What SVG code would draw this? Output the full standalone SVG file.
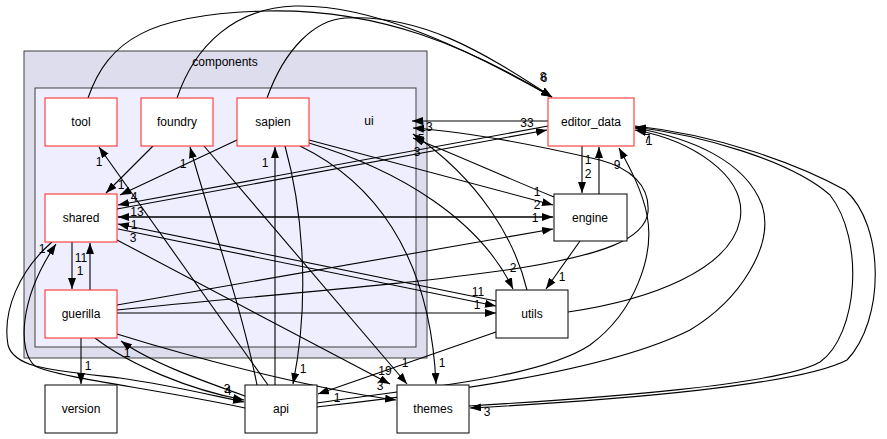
<svg xmlns="http://www.w3.org/2000/svg" width="887" height="439" viewBox="0 0 887 439">
<style>
text{font-family:"Liberation Sans",Arial,sans-serif;font-size:12px;fill:#000}
.lbl{text-anchor:middle}
.n{text-anchor:middle}
.red{fill:#fff;stroke:#ff2020;stroke-width:1}
.blk{fill:#fff;stroke:#000;stroke-width:1}
#edges path{fill:none;stroke:#000;stroke-width:1.1;marker-end:url(#a)}
</style>
<defs>
<marker id="a" markerWidth="11" markerHeight="8" refX="11" refY="4" orient="auto" markerUnits="userSpaceOnUse"><path d="M0,0 L11,4 L0,8 z" fill="#000"/></marker>
</defs>
<rect width="887" height="439" fill="#fff"/>
<g id="cluster-components">
<rect x="24" y="51" width="403" height="307" fill="#ddddee" stroke="#404040" stroke-width="1"/>
<text class="n" x="225" y="66">components</text>
</g>
<g id="cluster-ui">
<rect x="35" y="88" width="381" height="259" fill="#eeeeff" stroke="#404040" stroke-width="1"/>
<text class="n" x="369" y="125">ui</text>
</g>
<g id="edges">
<path d="M88,98 C108,40 150,14 265,11 C380,8 470,48 552,97"/>
<path d="M177,98 C195,45 235,8 295,6 C370,4 460,45 552,97"/>
<path d="M267,98 C285,48 315,20 345,18 C420,14 480,50 552,97"/>
<path d="M268,385 L99,147"/>
<path d="M257,385 C240,300 210,220 190,147"/>
<path d="M275,385 L275,147"/>
<path d="M285,146 C300,200 312,290 293,384"/>
<path d="M153,146 L106,193"/>
<path d="M237,140 L120,195"/>
<path d="M204,146 L407,384"/>
<path d="M117,240 L390,384"/>
<path d="M300,146 C370,180 430,250 436,384"/>
<path d="M117,334 C200,360 320,390 396,400"/>
<path d="M117,209 L547,130"/>
<path d="M548,126 L118,205"/>
<path d="M548,121 L412,121"/>
<path d="M553,217 L118,217"/>
<path d="M118,217 L553,217"/>
<path d="M496,301 L118,224"/>
<path d="M118,229 L496,306"/>
<path d="M117,313 L496,313"/>
<path d="M117,305 L553,229"/>
<path d="M117,310 C250,296 400,286 520,268 C600,255 645,240 648,212 C650,185 630,168 600,160 C540,146 470,132 413,128"/>
<path d="M554,197 C500,175 450,152 413,138"/>
<path d="M527,290 C515,240 480,180 413,134"/>
<path d="M309,143 C400,170 480,220 513,289"/>
<path d="M309,140 L553,205"/>
<path d="M580,241 L546,289"/>
<path d="M582,146 L582,193"/>
<path d="M599,194 L599,147"/>
<path d="M568,312 C650,300 730,270 740,220 C748,175 690,140 635,130"/>
<path d="M317,403 C420,388 540,378 590,345 C635,312 655,255 647,215 C642,190 630,168 619,148"/>
<path d="M317,407 C420,395 600,375 690,330 C740,300 775,245 762,205 C745,160 690,138 635,128"/>
<path d="M469,406 C600,398 780,385 820,362 C858,335 865,240 830,195 C790,160 700,135 635,127"/>
<path d="M635,126 C720,135 800,165 845,190 C885,225 885,320 847,360 C800,385 620,400 470,408"/>
<path d="M81,338 L81,384"/>
<path d="M72,242 L72,289"/>
<path d="M90,290 L90,243"/>
<path d="M245,408 C150,388 60,378 35,366 C18,352 18,300 56,244"/>
<path d="M52,242 C20,270 2,310 8,345 C14,368 50,370 120,378 C170,385 210,395 244,402"/>
<path d="M95,338 C130,365 190,390 244,400"/>
<path d="M245,396 C200,380 150,362 121,341"/>
<path d="M496,332 L318,394"/>
</g>
<g id="edge-labels">
<text class="lbl" x="543" y="81">8</text>
<text class="lbl" x="544" y="82">6</text>
<text class="lbl" x="99" y="166">1</text>
<text class="lbl" x="183" y="168">1</text>
<text class="lbl" x="265" y="167">1</text>
<text class="lbl" x="121" y="189">1</text>
<text class="lbl" x="134" y="201">4</text>
<text class="lbl" x="137" y="216">13</text>
<text class="lbl" x="134" y="229">1</text>
<text class="lbl" x="133" y="242">3</text>
<text class="lbl" x="42" y="253">1</text>
<text class="lbl" x="81" y="262">11</text>
<text class="lbl" x="80" y="275">1</text>
<text class="lbl" x="527" y="127">33</text>
<text class="lbl" x="426" y="131">13</text>
<text class="lbl" x="421" y="143">5</text>
<text class="lbl" x="417" y="156">3</text>
<text class="lbl" x="647" y="143">7</text>
<text class="lbl" x="649" y="145">1</text>
<text class="lbl" x="588" y="164">1</text>
<text class="lbl" x="588" y="178">2</text>
<text class="lbl" x="617" y="169">9</text>
<text class="lbl" x="537" y="196">1</text>
<text class="lbl" x="537" y="209">2</text>
<text class="lbl" x="535" y="222">1</text>
<text class="lbl" x="513" y="272">2</text>
<text class="lbl" x="562" y="281">1</text>
<text class="lbl" x="478" y="296">11</text>
<text class="lbl" x="477" y="309">1</text>
<text class="lbl" x="227" y="393">3</text>
<text class="lbl" x="228" y="395">4</text>
<text class="lbl" x="303" y="373">1</text>
<text class="lbl" x="337" y="402">1</text>
<text class="lbl" x="385" y="375">19</text>
<text class="lbl" x="405" y="367">1</text>
<text class="lbl" x="442" y="367">1</text>
<text class="lbl" x="380" y="390">3</text>
<text class="lbl" x="487" y="416">3</text>
<text class="lbl" x="127" y="357">1</text>
<text class="lbl" x="88" y="370">1</text>
</g>
<g id="node-tool"><rect class="red" x="45" y="98" width="72" height="48"/><text class="n" x="81" y="126">tool</text></g>
<g id="node-foundry"><rect class="red" x="141" y="98" width="72" height="48"/><text class="n" x="177" y="126">foundry</text></g>
<g id="node-sapien"><rect class="red" x="237" y="98" width="72" height="48"/><text class="n" x="273" y="126">sapien</text></g>
<g id="node-shared"><rect class="red" x="45" y="194" width="72" height="48"/><text class="n" x="81" y="222">shared</text></g>
<g id="node-guerilla"><rect class="red" x="45" y="290" width="72" height="48"/><text class="n" x="81" y="318">guerilla</text></g>
<g id="node-editor_data"><rect class="red" x="548" y="98" width="86" height="48"/><text class="n" x="591" y="126">editor_data</text></g>
<g id="node-engine"><rect class="blk" x="554" y="194" width="73" height="47"/><text class="n" x="590" y="222">engine</text></g>
<g id="node-utils"><rect class="blk" x="496" y="290" width="72" height="48"/><text class="n" x="532" y="318">utils</text></g>
<g id="node-version"><rect class="blk" x="45" y="385" width="72" height="48"/><text class="n" x="81" y="413">version</text></g>
<g id="node-api"><rect class="blk" x="245" y="385" width="72" height="48"/><text class="n" x="281" y="413">api</text></g>
<g id="node-themes"><rect class="blk" x="397" y="385" width="72" height="48"/><text class="n" x="433" y="413">themes</text></g>
</svg>
